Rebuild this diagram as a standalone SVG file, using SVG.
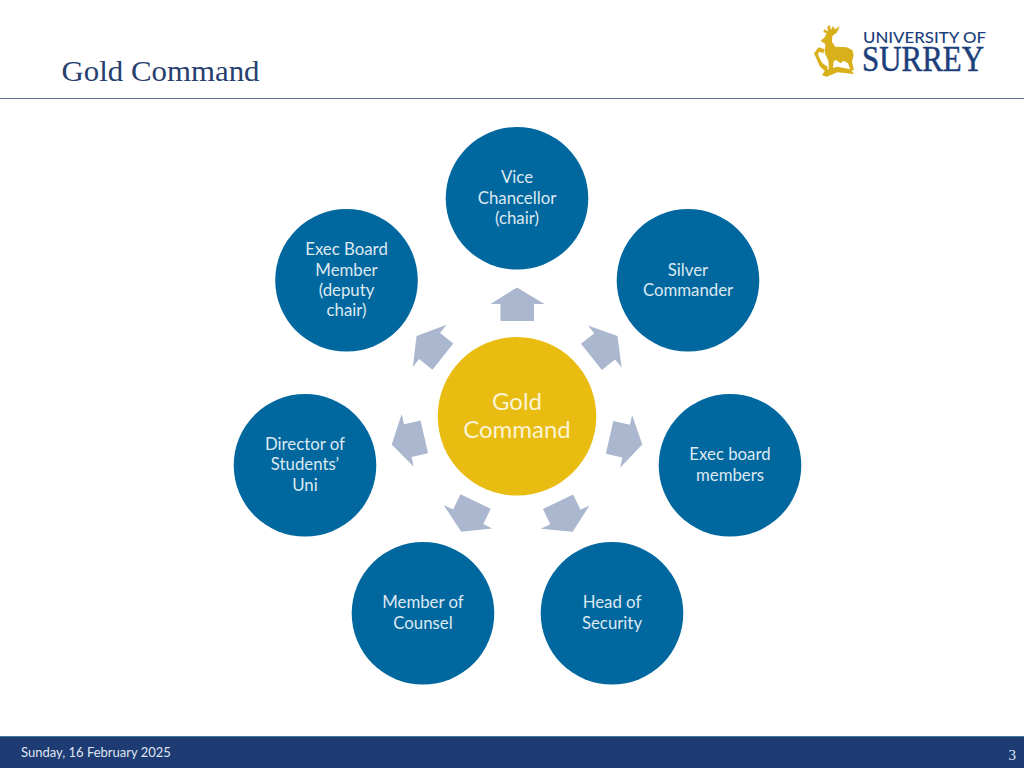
<svg xmlns="http://www.w3.org/2000/svg" width="1024" height="768" viewBox="0 0 1024 768">
<style>
.n{fill:#00679f}
.t{font-family:"Lato","Open Sans",sans-serif;font-size:16.800px;fill:#dde9f1;text-anchor:middle}
.c{font-family:"Lato","Open Sans",sans-serif;font-size:24px;fill:#fbf3d2;text-anchor:middle}
.a{fill:#abb7cf}
.f{font-family:"Lato","Open Sans",sans-serif;font-size:13px;fill:#dfe6f2}
</style>
<defs><polygon id="arrow" class="a" points="517,287.500 544.500,304 534,304 534,321 500.500,321 500.500,304 490.500,304"/></defs>
<rect width="1024" height="768" fill="#fff"/>
<text x="61.500" y="80.500" font-family="'Liberation Serif',serif" font-size="30" fill="#27406f" textLength="198" lengthAdjust="spacingAndGlyphs">Gold Command</text>
<rect x="0" y="98" width="1024" height="1" fill="#5d6f92"/>
<g id="logo">
<g transform="translate(800,10) scale(.3333)" fill="#d8b01c">
<path d="M62 92 L74 82 L80 70 L70 66 L73 58 L84 64 L82 50 L90 45 L92 60 L99 48 L105 58 L120 48 L110 68 L97 78 L96 96 L106 110 L140 112 L157 120 L161 135 L156 155 L162 180 L152 182 L144 160 L130 152 L122 160 L108 150 L101 154 L98 180 L87 180 L85 152 L74 128 L76 102 Z"/>
<path d="M42 130 L56 112 L74 118 L70 130 L57 125 L54 134 L66 158 L84 172 L78 186 L60 170 Z"/>
<path d="M66 196 L76 180 L112 170 L152 178 L162 192 L112 187 L80 200 Z"/>
</g>
<text x="863" y="43" font-family="'Lato',sans-serif" font-weight="500" font-size="15" fill="#1c3f7c" textLength="123" lengthAdjust="spacingAndGlyphs">UNIVERSITY OF</text>
<text x="862" y="71" font-family="'Liberation Serif',serif" font-size="35" fill="#1c3f7c" stroke="#1c3f7c" stroke-width=".5" textLength="122" lengthAdjust="spacingAndGlyphs">SURREY</text>
</g>
<g id="connectors">
<use href="#arrow"/>
<use href="#arrow" transform="rotate(51.43 517 416)"/>
<use href="#arrow" transform="rotate(102.86 517 416)"/>
<use href="#arrow" transform="rotate(154.29 517 416)"/>
<use href="#arrow" transform="rotate(205.71 517 416)"/>
<use href="#arrow" transform="rotate(257.14 517 416)"/>
<use href="#arrow" transform="rotate(308.57 517 416)"/>
</g>
<g id="center"><circle cx="517" cy="416.300" r="79.300" fill="#e8bc11"/><text class="c" x="517" y="410">Gold</text><text class="c" x="517" y="438">Command</text></g>
<g id="vc"><circle class="n" cx="517" cy="198.300" r="71.300"/><text class="t" x="517" y="183.400">Vice</text><text class="t" x="517" y="203.900">Chancellor</text><text class="t" x="517" y="224.400">(chair)</text></g>
<g id="silver"><circle class="n" cx="688" cy="280.300" r="71.300"/><text class="t" x="688" y="275.900">Silver</text><text class="t" x="688" y="296.400">Commander</text></g>
<g id="execboard"><circle class="n" cx="730" cy="465.300" r="71.300"/><text class="t" x="730" y="460.400">Exec board</text><text class="t" x="730" y="480.900">members</text></g>
<g id="security"><circle class="n" cx="612" cy="613.300" r="71.300"/><text class="t" x="612" y="608.400">Head of</text><text class="t" x="612" y="628.900">Security</text></g>
<g id="counsel"><circle class="n" cx="423" cy="613.300" r="71.300"/><text class="t" x="423" y="608.400">Member of</text><text class="t" x="423" y="628.900">Counsel</text></g>
<g id="director"><circle class="n" cx="305" cy="465.300" r="71.300"/><text class="t" x="305" y="449.900">Director of</text><text class="t" x="305" y="470.400">Students’</text><text class="t" x="305" y="490.900">Uni</text></g>
<g id="deputy"><circle class="n" cx="346.500" cy="280.300" r="71.300"/><text class="t" x="346.500" y="255.400">Exec Board</text><text class="t" x="346.500" y="275.900">Member</text><text class="t" x="346.500" y="296.400">(deputy</text><text class="t" x="346.500" y="316.400">chair)</text></g>
<g id="footer"><rect x="0" y="736" width="1024" height="32" fill="#1f3b73"/><rect x="0" y="736" width="1024" height="1" fill="#3f7d9c"/>
<text class="f" x="21" y="757">Sunday, 16 February 2025</text>
<text x="1016" y="760" text-anchor="end" font-family="'Liberation Serif',serif" font-size="15" fill="#dfe6f2">3</text></g>
</svg>
